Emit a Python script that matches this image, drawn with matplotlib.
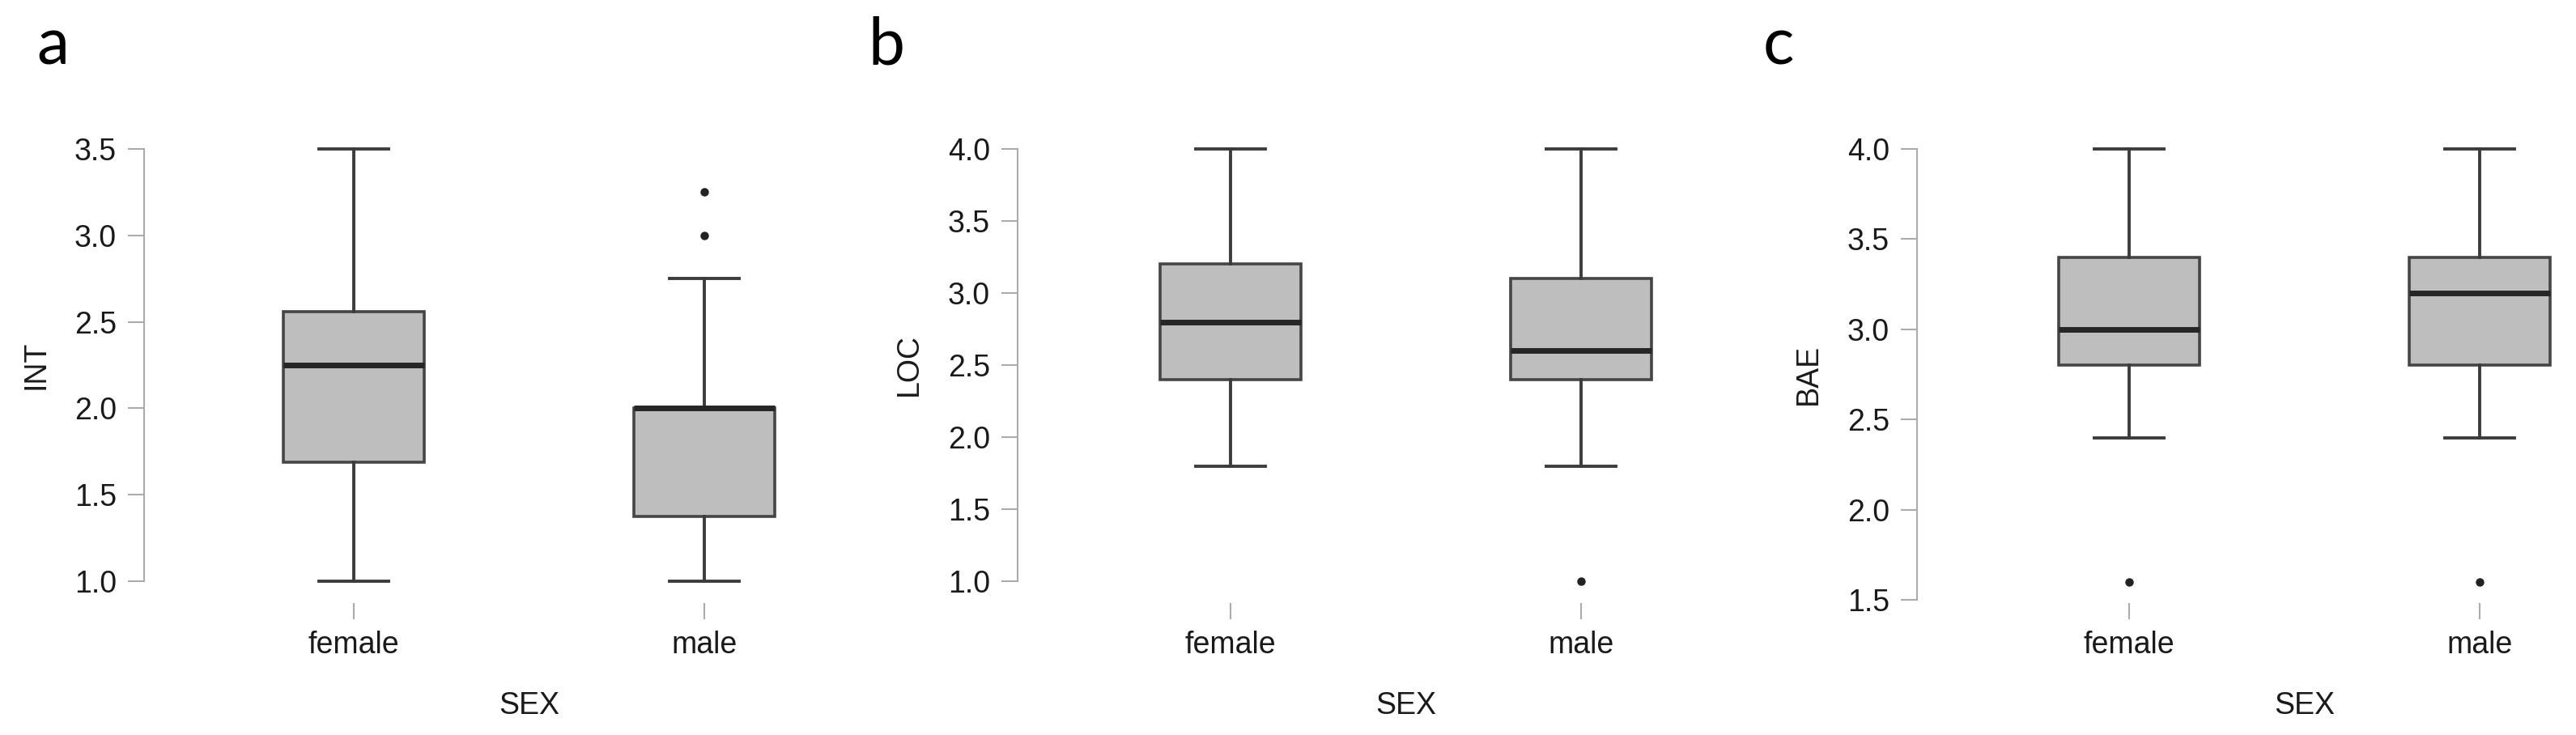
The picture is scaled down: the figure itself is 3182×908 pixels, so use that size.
import matplotlib
matplotlib.use("Agg")
import matplotlib.pyplot as plt

plt.rcParams['font.family'] = ['Liberation Sans', 'DejaVu Sans']

W, H = 3182, 908
fig = plt.figure(figsize=(W / 100, H / 100), dpi=100)

groups = ["female", "male"]

# INT
int_q1 = [1.69, 1.375]
int_med = [2.25, 2.0]
int_q3 = [2.56, 2.0]
int_lo = [1.0, 1.0]
int_hi = [3.5, 2.75]
int_out = [[], [3.0, 3.25]]

# LOC
loc_q1 = [2.4, 2.4]
loc_med = [2.8, 2.6]
loc_q3 = [3.2, 3.1]
loc_lo = [1.8, 1.8]
loc_hi = [4.0, 4.0]
loc_out = [[], [1.0]]

# BAE
bae_q1 = [2.8, 2.8]
bae_med = [3.0, 3.2]
bae_q3 = [3.4, 3.4]
bae_lo = [2.4, 2.4]
bae_hi = [4.0, 4.0]
bae_out = [[1.6], [1.6]]

panels = [
    # letter, ylabel, stats, yticks, ylim, xlim, axis x px, letter x px
    ("a", "INT", (int_q1, int_med, int_q3, int_lo, int_hi, int_out),
     [1.0, 1.5, 2.0, 2.5, 3.0, 3.5], (0.874, 3.659), (0.4018, 2.5), 178, 45),
    ("b", "LOC", (loc_q1, loc_med, loc_q3, loc_lo, loc_hi, loc_out),
     [1.0, 1.5, 2.0, 2.5, 3.0, 3.5, 4.0], (0.848, 4.191), (0.3926, 2.5), 1257, 1072),
    ("c", "BAE", (bae_q1, bae_med, bae_q3, bae_lo, bae_hi, bae_out),
     [1.5, 2.0, 2.5, 3.0, 3.5, 4.0], (1.482, 4.153), (0.395, 2.25), 2368, 2178),
]

unit_px = 433
top_px, bot_px = 150, 745
box_c = "#3c3c3c"
axis_c = "#ababab"
text_c = "#1a1a1a"

for letter, ylab, st, yticks, ylim, xlim, ax_x, let_x in panels:
    q1, med, q3, lo, hi, out = st
    width_px = (xlim[1] - xlim[0]) * unit_px
    ax = fig.add_axes([ax_x / W, (H - bot_px) / H, width_px / W, (bot_px - top_px) / H])

    stats = []
    for i in range(len(groups)):
        stats.append(dict(med=med[i], q1=q1[i], q3=q3[i], whislo=lo[i],
                          whishi=hi[i], fliers=out[i], label=groups[i]))

    ax.bxp(stats, positions=[1, 2], widths=0.4, capwidths=0.2, patch_artist=True,
           boxprops=dict(facecolor="#bebebe", edgecolor="#454545", linewidth=2.6),
           medianprops=dict(color="#262626", linewidth=5),
           whiskerprops=dict(color=box_c, linewidth=2.8),
           capprops=dict(color=box_c, linewidth=2.8),
           flierprops=dict(marker="o", markerfacecolor="#222222", markeredgecolor="#222222",
                           markersize=6.5, clip_on=False))

    ax.set_xlim(xlim)
    ax.set_ylim(ylim)
    ax.set_yticks(yticks)
    ax.set_yticklabels([f"{t:.1f}" for t in yticks])
    ax.set_xticks([1, 2])
    ax.set_xticklabels(groups)

    for s in ["top", "right", "bottom"]:
        ax.spines[s].set_visible(False)
    ax.spines["left"].set_bounds(yticks[0], yticks[-1])
    ax.spines["left"].set_color(axis_c)
    ax.spines["left"].set_linewidth(1.5)
    ax.tick_params(axis="y", length=14.4, width=1.5, color=axis_c, pad=10,
                   labelsize=27, labelcolor=text_c)
    ax.tick_params(axis="x", length=14.4, width=1.5, color=axis_c, pad=10,
                   labelsize=27, labelcolor=text_c)
    ax.patch.set_alpha(0)

    ax.text(-134 / width_px, (yticks[0] + yticks[-1]) / 2, ylab,
            transform=ax.get_yaxis_transform(), rotation=90,
            ha="center", va="center", fontsize=27, color=text_c)
    ax.text(1.5, -(872 - bot_px) / (bot_px - top_px), "SEX",
            transform=ax.get_xaxis_transform(), ha="center", va="center",
            fontsize=27, color=text_c)

    fig.text(let_x / W, 1 - 80 / H, letter, fontsize=58, family="Lato",
             ha="left", va="baseline", color="black")

fig.savefig("out.png", dpi=100)
